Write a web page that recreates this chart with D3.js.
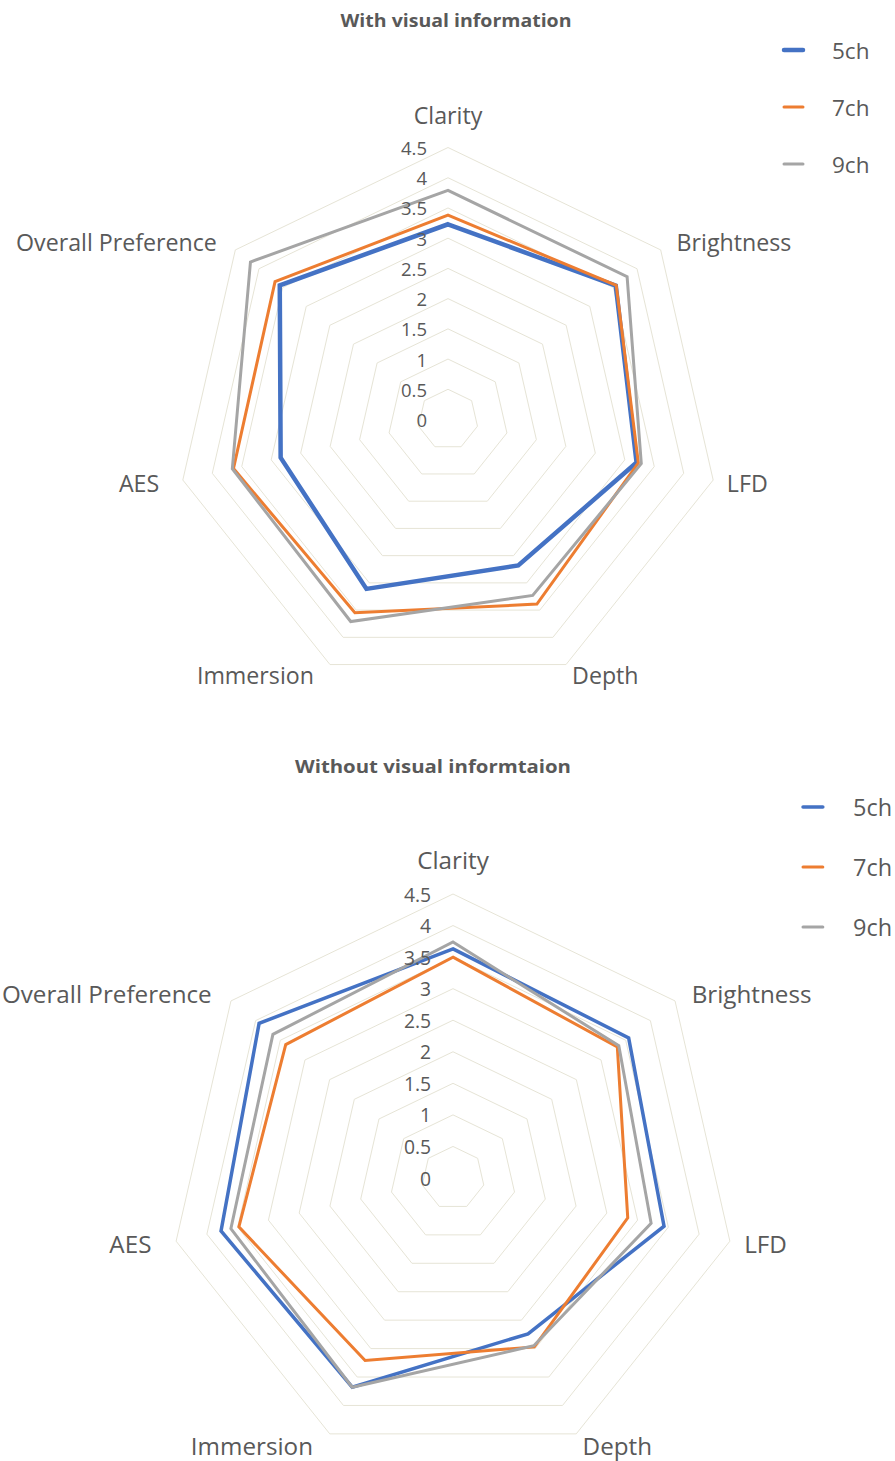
<!DOCTYPE html>
<html>
<head>
<meta charset="utf-8">
<script src="https://cdn.jsdelivr.net/npm/d3@7"></script>
<style>
  html, body { margin: 0; padding: 0; background: #ffffff; }
  svg { display: block; }
  text { font-family: "Open Sans", "Noto Sans", sans-serif; fill: #595959; }
</style>
</head>
<body>
<svg id="chart" width="895" height="1461"></svg>
<script>
// ---------------- DATA ----------------
const categories = ["Clarity", "Brightness", "LFD", "Depth", "Immersion", "AES", "Overall Preference"];
const seriesNames = ["5ch", "7ch", "9ch"];
const tickValues = [0, 0.5, 1, 1.5, 2, 2.5, 3, 3.5, 4, 4.5];
const tickLabels = ["0", "0.5", "1", "1.5", "2", "2.5", "3", "3.5", "4", "4.5"];

const titleWith = "With visual information";
const withVisual5ch = [3.23, 3.55, 3.20, 2.68, 3.11, 2.84, 3.56];
const withVisual7ch = [3.38, 3.56, 3.23, 3.39, 3.55, 3.64, 3.66];
const withVisual9ch = [3.79, 3.79, 3.28, 3.23, 3.71, 3.66, 4.18];

const titleWithout = "Without visual informtaion";
const withoutVisual5ch = [3.63, 3.56, 3.43, 2.74, 3.68, 3.77, 3.93];
const withoutVisual7ch = [3.50, 3.33, 2.84, 2.97, 3.21, 3.48, 3.39];
const withoutVisual9ch = [3.74, 3.36, 3.22, 2.95, 3.68, 3.61, 3.65];

// ---------------- STYLE ----------------
const colors = ["#4472C4", "#ED7D31", "#A5A5A5"];
const gridColor = "#e6e4d6";

const svg = d3.select("#chart");
svg.append("rect").attr("width", 895).attr("height", 1461).attr("fill", "#ffffff");

function drawRadar(cfg) {
  const { cx, cy, R, s, title, titleX, titleY, titleW, series, legendX, legendY, legendStep, blueWidth } = cfg;
  const g = svg.append("g");

  const r = d3.scaleLinear().domain([0, d3.max(tickValues)]).range([0, R]);
  const angle = d3.scaleLinear().domain([0, categories.length]).range([0, 2 * Math.PI]);

  const radial = d3.lineRadial()
    .angle((d, i) => angle(i))
    .radius(d => r(d))
    .curve(d3.curveLinearClosed);

  const plot = g.append("g").attr("transform", `translate(${cx},${cy})`);

  // grid rings
  tickValues.filter(v => v > 0).forEach(v => {
    plot.append("path")
      .attr("d", radial(categories.map(() => v)))
      .attr("fill", "none")
      .attr("stroke", gridColor)
      .attr("stroke-width", 1);
  });

  // series
  series.forEach((vals, k) => {
    plot.append("path")
      .attr("d", radial(vals))
      .attr("fill", "none")
      .attr("stroke", colors[k])
      .attr("stroke-width", k === 0 ? blueWidth : 3)
      .attr("stroke-linejoin", "miter");
  });

  // tick labels
  tickValues.forEach((v, i) => {
    g.append("text")
      .attr("x", cx - 21 * s)
      .attr("y", cy - r(v))
      .attr("text-anchor", "end")
      .attr("dominant-baseline", "central")
      .style("font-size", (18.5 * s) + "px")
      .text(tickLabels[i]);
  });

  // category labels
  categories.forEach((c, i) => {
    const a = angle(i);
    const sn = Math.sin(a), cs = Math.cos(a);
    const vx = cx + R * sn, vy = cy - R * cs;
    let x, y, anchor;
    if (Math.abs(sn) < 1e-6) {
      x = cx; y = cy - R - 33 * s; anchor = "middle";
    } else if (sn > 0) {
      x = vx + 14 * s * sn + (cs > 0 ? 5 * s : 0); anchor = "start";
      y = cy - (R + 12 * s) * cs;
    } else {
      x = vx + 14 * s * sn - 10 * s + (cs > 0 ? 2.5 * s : 0); anchor = "end";
      y = cy - (R + 12 * s) * cs;
    }
    g.append("text")
      .attr("x", x).attr("y", y)
      .attr("text-anchor", anchor)
      .attr("dominant-baseline", "central")
      .style("font-size", (23.2 * s) + "px")
      .text(c);
  });

  // title
  g.append("text")
    .attr("x", titleX).attr("y", titleY)
    .attr("text-anchor", "middle")
    .attr("dominant-baseline", "central")
    .attr("textLength", titleW)
    .attr("lengthAdjust", "spacingAndGlyphs")
    .style("font-size", "17.5px")
    .style("font-weight", "bold")
    .text(title);

  // legend
  seriesNames.forEach((name, k) => {
    const ly = legendY + k * legendStep;
    g.append("line")
      .attr("x1", legendX).attr("x2", legendX + 19 * s)
      .attr("y1", ly).attr("y2", ly)
      .attr("stroke", colors[k])
      .attr("stroke-width", k === 0 ? blueWidth : 3)
      .attr("stroke-linecap", "round");
    g.append("text")
      .attr("x", legendX + 48 * s).attr("y", ly)
      .attr("dominant-baseline", "central")
      .style("font-size", (22.5 * s) + "px")
      .text(name);
  });
}

drawRadar({
  cx: 448, cy: 419.5, R: 272, s: 1,
  title: titleWith, titleX: 456, titleY: 20, titleW: 231,
  series: [withVisual5ch, withVisual7ch, withVisual9ch],
  legendX: 784, legendY: 50, legendStep: 57, blueWidth: 4.5
});

drawRadar({
  cx: 453, cy: 1178, R: 284, s: 1.044,
  title: titleWithout, titleX: 433, titleY: 766, titleW: 276,
  series: [withoutVisual5ch, withoutVisual7ch, withoutVisual9ch],
  legendX: 803, legendY: 807, legendStep: 60, blueWidth: 3.5
});
</script>
</body>
</html>
